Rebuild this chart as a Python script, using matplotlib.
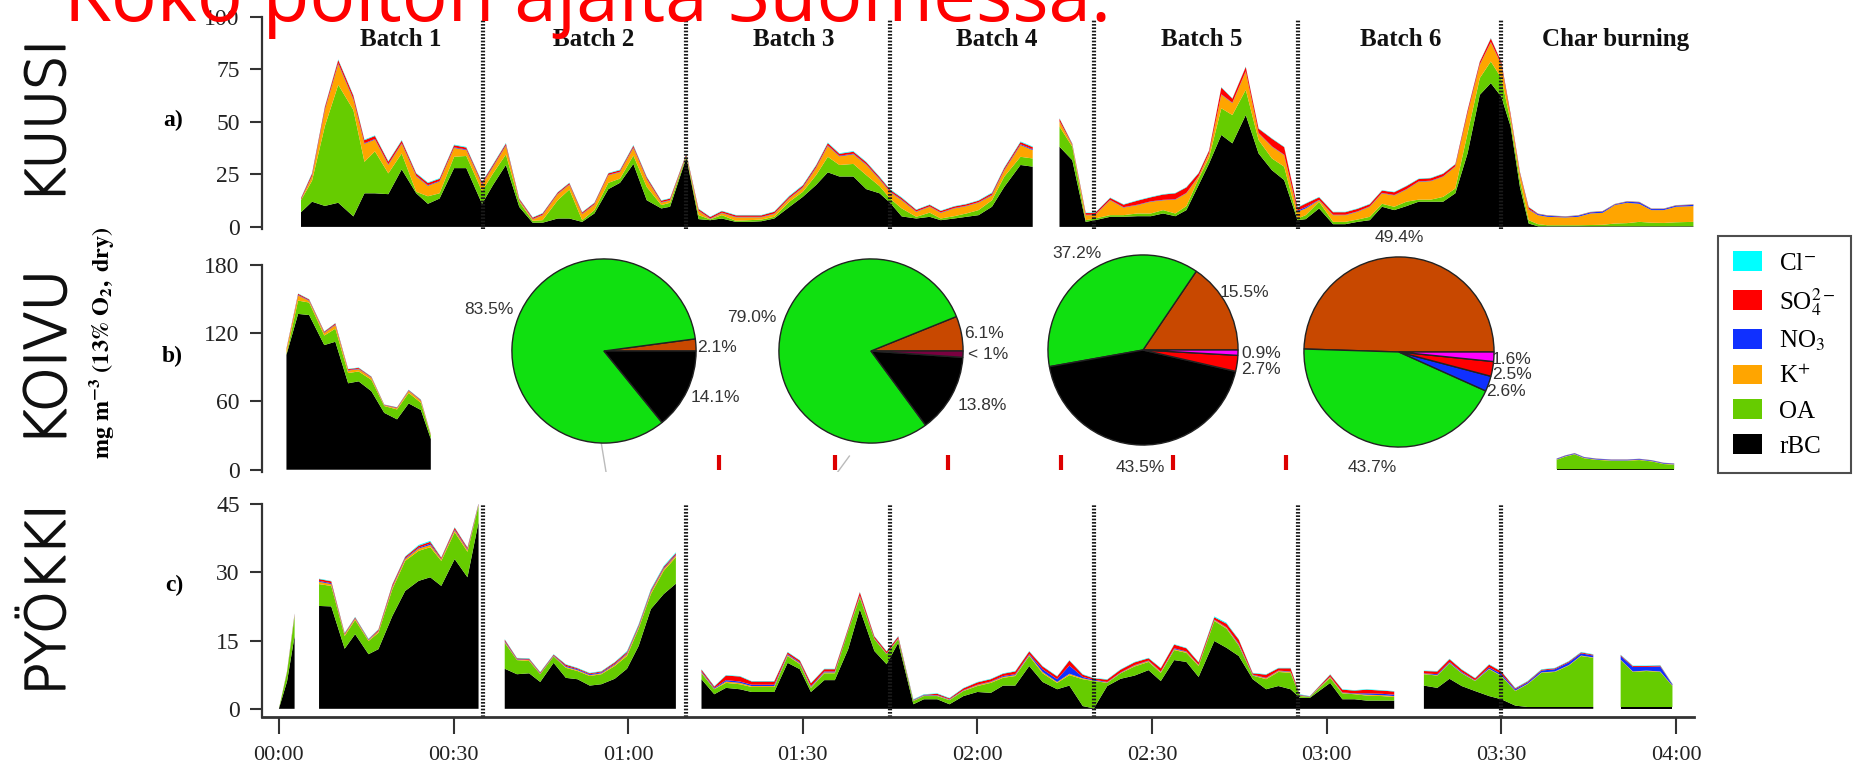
import matplotlib
matplotlib.use("Agg")
import matplotlib.pyplot as plt
import matplotlib.patheffects as pe
from matplotlib.patches import Patch

plt.rcParams['mathtext.fontset'] = 'stix'
SERIF = 'Liberation Serif'
SANS = 'Liberation Sans'
TITLEFONT = 'Open Sans'
BIG = 'DejaVu Sans'

# ---------------- data ----------------
species = ['rBC', 'OA', 'K+', 'NO3', 'SO4', 'Cl-']
stack_colors = ['#000000', '#66CC00', '#FFA500', '#1030FF', '#FF0000', '#00FFFF']
legend_labels = [r'Cl$^{-}$', r'SO$_4^{2-}$', r'NO$_3$', r'K$^{+}$', 'OA', 'rBC']
legend_colors = ['#00FFFF', '#FF0000', '#1030FF', '#FFA500', '#66CC00', '#000000']

batch_names = ['Batch 1', 'Batch 2', 'Batch 3', 'Batch 4', 'Batch 5', 'Batch 6', 'Char burning']
batch_label_x = [21, 54, 88.5, 123.4, 158.5, 192.7, 229.7]
batch_edges = [35, 70, 105, 140, 175, 210]
xtick_min = [0, 30, 60, 90, 120, 150, 180, 210, 240]
xtick_lab = ['00:00', '00:30', '01:00', '01:30', '02:00', '02:30', '03:00', '03:30', '04:00']

# Panel a (KUUSI), segment 1
a1_t = [3.8, 5.7, 7.9, 10.2, 12.8, 14.7, 16.5, 18.8, 21.1, 23.6, 25.6, 27.6, 30.1, 32.2, 34.9,
        36.8, 39.0, 41.3, 43.6, 45.3, 47.9, 49.9, 52.1, 54.2, 56.6, 58.6, 60.9, 63.2, 65.7, 67.2, 70.0,
        72.1, 74.1, 76.1, 78.5, 80.8, 82.9, 85.1, 87.7, 90.0, 92.3, 94.3, 96.3, 98.7, 100.9, 103.2, 105.0,
        107.0, 109.5, 111.8, 113.7, 116.0, 118.1, 120.2, 122.5, 124.6, 127.4, 129.5]
a1_rbc = [7, 12, 10, 11.5, 5, 16, 16, 15.6, 27.4, 16, 11, 13.5, 28, 28, 11,
          20, 29.5, 9.5, 2, 2, 4, 4, 2.4, 6.4, 18, 21, 30, 12.7, 8.8, 9.6, 33,
          3.7, 3.2, 4, 2.4, 2.4, 2.7, 4, 9.5, 14.3, 20, 26, 24, 24, 18, 16, 11.5,
          5, 4, 4.8, 3.2, 4, 4.8, 5.6, 9.6, 19, 29.5, 28.7]
a1_oa = [5.7, 10, 38, 56.2, 50.7, 15, 20, 9.9, 7.6, 0.7, 3.6, 2.5, 5.4, 5.8, 6,
         5.5, 5, 2.5, 0.9, 1.2, 8.7, 13.8, 0.8, 1.6, 3, 2, 4, 6.3, 1.6, 1.9, 0.8,
         1.9, 0.4, 1.6, 0.5, 0.8, 0.8, 0.8, 2.5, 2.4, 4.7, 7.4, 5.5, 6, 6.7, 3.4, 2,
         3.8, 0.8, 2, 0.8, 1.1, 1.6, 2.4, 3.1, 4.9, 3.9, 3.9]
a1_k = [0.2, 2.1, 7.6, 9.9, 4.9, 8.6, 5.6, 4.1, 4.6, 7.4, 5, 5.6, 4.2, 2.8, 3.1,
        3.1, 4.1, 0.6, 0.7, 2.4, 2.9, 2.3, 2.9, 2.6, 3.6, 3.1, 3.6, 3.6, 1.2, 1.1, 0.3,
        2, 0.2, 1, 1.7, 1.4, 1.1, 1.4, 1.6, 1.9, 3.4, 5.2, 4.1, 4.6, 4.9, 3.2, 3.1,
        3.9, 2.4, 2.8, 2.7, 3.7, 3.5, 3.6, 2.3, 2.9, 5.6, 4]
a1_no3 = [0.2, 0.3, 0.3, 0.4, 0.4, 0.3, 0.3, 0.3, 0.3, 0.3, 0.3, 0.3, 0.3, 0.3, 0.3,
          0.3, 0.3, 0.2, 0.2, 0.2, 0.2, 0.2, 0.2, 0.2, 0.2, 0.2, 0.3, 0.3, 0.2, 0.2, 0.2,
          0.2, 0.2, 0.2, 0.2, 0.2, 0.2, 0.2, 0.2, 0.3, 0.3, 0.3, 0.3, 0.3, 0.3, 0.3, 0.3,
          0.3, 0.2, 0.2, 0.2, 0.2, 0.2, 0.2, 0.3, 0.3, 0.4, 0.4]
a1_so4 = [0.6, 1.0, 1.2, 1.5, 1.5, 1.4, 1.4, 1.2, 1.2, 1.0, 1.0, 1.0, 1.0, 0.9, 0.8,
          0.8, 0.8, 0.6, 0.6, 0.6, 0.6, 0.6, 0.6, 0.6, 0.7, 0.7, 0.8, 0.8, 0.7, 0.7, 0.6,
          0.7, 0.7, 0.7, 0.7, 0.7, 0.7, 0.8, 0.8, 0.8, 0.9, 1.0, 0.9, 0.9, 0.9, 0.8, 0.8,
          0.8, 0.7, 0.7, 0.7, 0.7, 0.7, 0.7, 0.8, 0.9, 1.0, 1.0]
a1_cl = [0.2, 0.3, 0.3, 0.3, 0.3, 0.3, 0.3, 0.3, 0.3, 0.3, 0.3, 0.3, 0.3, 0.3, 0.3,
         0.3, 0.3, 0.2, 0.2, 0.2, 0.2, 0.2, 0.2, 0.2, 0.2, 0.3, 0.3, 0.3, 0.2, 0.2, 0.2,
         0.2, 0.2, 0.2, 0.2, 0.2, 0.2, 0.2, 0.3, 0.3, 0.3, 0.3, 0.3, 0.3, 0.3, 0.3, 0.3,
         0.3, 0.2, 0.2, 0.2, 0.2, 0.2, 0.2, 0.3, 0.3, 0.3, 0.3]

# Panel a, segment 2
a2_t = [134.1, 136.3, 138.6, 140.2, 142.8, 145.1, 147.5, 149.8, 151.9, 154.0, 155.9, 158.0, 159.8,
        161.9, 163.8, 166.1, 168.3, 170.6, 172.7, 175.0, 176.4, 178.7, 181.1, 183.2, 185.3, 187.4,
        189.5, 191.6, 193.7, 195.8, 197.9, 200.0, 202.1, 204.2, 206.3, 208.2, 210.0, 211.6, 213.2,
        214.7, 216.3, 217.9, 221.0, 223.2, 225.3, 227.4, 229.5, 231.6, 233.7, 235.8, 237.9, 240.0, 243.0]
a2_rbc = [38.2, 31.8, 2.4, 3.2, 4.8, 4.8, 5.1, 5.1, 6.4, 5.1, 8.0, 19.9, 30.2,
          43.8, 39.8, 53.3, 35.0, 27.0, 22.3, 3.2, 3.7, 8.8, 1.3, 1.3, 2.4, 3.2,
          9.6, 8.0, 9.9, 12.0, 12.0, 12.0, 16.0, 35.0, 62.9, 68.5, 62.0, 47.8, 19.0,
          1.6, 0.3, 0.3, 0.3, 0.3, 0.3, 0.3, 0.3, 0.3, 0.3, 0.3, 0.3, 0.3, 0.3]
a2_oa = [9.6, 6.4, 0.8, 0.8, 0.8, 0.8, 1.3, 1.3, 1.6, 1.3, 1.9, 3.1, 2.8,
         12.7, 13.5, 12.0, 6.4, 5.6, 6.4, 0.8, 1.9, 3.2, 1.1, 1.1, 1.1, 1.6,
         1.4, 1.6, 2.1, 1.0, 1.0, 2.3, 2.3, 9.6, 8.0, 10.3, 8.9, 2.4, 3.3,
         1.6, 1.0, 0.5, 0.5, 0.5, 0.6, 0.7, 1.3, 1.5, 2.1, 1.7, 1.6, 1.9, 2.1]
a2_k = [2.4, 0.8, 2.4, 1.6, 7.1, 3.6, 4.0, 5.6, 4.7, 6.6, 6.1, 1.0, 2.0,
        6.5, 5.7, 8.7, 3.2, 5.6, 5.5, 3.2, 3.2, 0.7, 3.2, 3.2, 3.7, 4.8,
        5.0, 5.4, 5.8, 8.5, 8.8, 9.6, 10.4, 9.4, 6.3, 9.1, 6.3, 2.3, 2.9,
        5.1, 4.3, 4.0, 3.7, 4.0, 5.5, 5.7, 8.8, 9.7, 8.6, 6.0, 6.1, 7.4, 7.5]
a2_no3 = [0.2, 0.2, 0.2, 0.2, 0.2, 0.2, 0.2, 0.2, 0.2, 0.2, 0.2, 0.2, 0.2,
          0.2, 0.2, 0.2, 0.2, 0.2, 0.2, 0.6, 0.6, 0.2, 0.2, 0.2, 0.2, 0.2,
          0.2, 0.2, 0.2, 0.2, 0.2, 0.2, 0.2, 0.2, 0.2, 0.2, 0.2, 0.2, 0.2,
          0.2, 0.5, 0.5, 0.3, 0.5, 0.5, 0.6, 0.3, 0.5, 0.7, 0.5, 0.5, 0.5, 0.6]
a2_so4 = [1.2, 0.4, 0.8, 0.8, 0.9, 1.2, 1.9, 1.9, 2.5, 2.8, 2.6, 1.4, 1.2,
          3.2, 1.9, 2.0, 2.0, 3.6, 3.6, 1.4, 1.7, 1.2, 1.2, 1.2, 1.2, 1.0,
          1.1, 1.3, 1.4, 1.1, 1.2, 1.2, 0.9, 1.3, 1.2, 1.7, 1.2, 1.1, 0.7,
          0.9, 0.2, 0.2, 0.2, 0.2, 0.2, 0.2, 0.2, 0.2, 0.2, 0.2, 0.2, 0.2, 0.2]
a2_cl = [0.2, 0.2, 0.2, 0.2, 0.2, 0.2, 0.2, 0.2, 0.2, 0.2, 0.2, 0.2, 0.2,
         0.2, 0.2, 0.2, 0.2, 0.2, 0.2, 0.2, 0.2, 0.2, 0.2, 0.2, 0.2, 0.2,
         0.2, 0.2, 0.2, 0.2, 0.2, 0.2, 0.2, 0.2, 0.2, 0.2, 0.2, 0.2, 0.2,
         0.2, 0.1, 0.1, 0.1, 0.1, 0.1, 0.1, 0.1, 0.1, 0.1, 0.1, 0.1, 0.1, 0.1]

# Panel b (KOIVU)
b1_t = [1.3, 3.3, 5.2, 7.8, 9.7, 11.9, 13.7, 15.9, 18.1, 20.3, 22.3, 24.4, 26.1]
b1_rbc = [101, 137, 136, 109.6, 112.5, 76, 77.7, 69, 50, 44.3, 58.3, 52.5, 27]
b1_oa = [1, 11.7, 11, 8.4, 11.5, 9, 8.7, 10, 6, 8.7, 9.2, 6.3, 3]
b1_k = [3.5, 4.5, 1.5, 2.2, 3.2, 2.2, 2.0, 1.8, 0.6, 1.0, 1.7, 1.7, 0.7]
b1_no3 = [0.3, 0.5, 0.4, 0.4, 0.5, 0.4, 0.4, 0.3, 0.2, 0.3, 0.3, 0.3, 0.2]
b1_so4 = [0.7, 1.0, 0.8, 0.8, 1.0, 0.8, 0.8, 0.6, 0.4, 0.5, 0.6, 0.6, 0.3]
b1_cl = [0.2, 0.3, 0.3, 0.3, 0.3, 0.3, 0.3, 0.3, 0.2, 0.2, 0.3, 0.3, 0.1]

b2_t = [219.5, 221.0, 222.6, 224.2, 226.3, 228.9, 231.6, 233.7, 235.8, 237.9, 239.7]
b2_rbc = [0.5, 0.5, 0.5, 0.5, 0.5, 0.5, 0.5, 0.5, 0.5, 0.5, 0.5]
b2_oa = [8.2, 11.0, 13.0, 9.6, 8.2, 7.4, 7.4, 8.0, 6.8, 4.5, 3.9]
b2_k = [0.3, 0.3, 0.3, 0.3, 0.3, 0.3, 0.3, 0.3, 0.3, 0.3, 0.3]
b2_no3 = [0.6, 0.6, 0.6, 0.6, 0.6, 0.6, 0.6, 0.6, 0.6, 0.6, 0.6]
b2_so4 = [0.2, 0.2, 0.2, 0.2, 0.2, 0.2, 0.2, 0.2, 0.2, 0.2, 0.2]
b2_cl = [0.1, 0.1, 0.1, 0.1, 0.1, 0.1, 0.1, 0.1, 0.1, 0.1, 0.1]

# Panel c (PYÖKKI)
c1_t = [0.0, 1.4, 2.7]
c1_rbc = [0.0, 6.0, 16.0]
c1_oa = [0.0, 2.0, 4.4]
c1_k = [0.0, 0.1, 0.2]
c1_no3 = [0.0, 0.05, 0.1]
c1_so4 = [0.0, 0.1, 0.2]
c1_cl = [0.0, 0.05, 0.1]

c2_t = [6.9, 9.0, 11.3, 13.1, 15.4, 17.1, 19.5, 21.7, 24.0, 26.0, 27.9, 30.2, 32.4, 34.3]
c2_rbc = [22.6, 22.5, 13.2, 16.4, 12.0, 13.1, 20.4, 25.9, 28.1, 28.9, 27.0, 32.9, 28.9, 41.0]
c2_oa = [4.8, 4.5, 2.8, 3.1, 2.9, 3.6, 5.9, 6.6, 6.6, 6.6, 5.5, 5.9, 5.6, 3.6]
c2_k = [0.5, 0.4, 0.3, 0.3, 0.2, 0.3, 0.4, 0.4, 0.5, 0.5, 0.3, 0.4, 0.4, 0.2]
c2_no3 = [0.2, 0.2, 0.1, 0.1, 0.1, 0.1, 0.2, 0.2, 0.2, 0.3, 0.1, 0.2, 0.2, 0.1]
c2_so4 = [0.4, 0.4, 0.2, 0.2, 0.1, 0.3, 0.4, 0.3, 0.4, 0.4, 0.3, 0.4, 0.3, 0.2]
c2_cl = [0.1, 0.1, 0.1, 0.1, 0.1, 0.1, 0.1, 0.1, 0.2, 0.2, 0.1, 0.1, 0.1, 0.1]

c3_t = [38.8, 40.9, 43.0, 44.9, 47.2, 49.3, 51.3, 53.4, 55.4, 57.7, 59.8, 61.8, 63.9, 66.1, 68.2]
c3_rbc = [8.8, 7.6, 7.8, 5.9, 10.1, 6.8, 6.5, 5.1, 5.4, 6.6, 8.8, 13.8, 21.9, 25.2, 27.5]
c3_oa = [5.7, 3.1, 2.7, 1.7, 1.4, 2.2, 1.8, 2.1, 2.2, 2.8, 2.8, 3.8, 3.3, 5.1, 5.8]
c3_k = [0.2, 0.1, 0.2, 0.1, 0.1, 0.2, 0.2, 0.2, 0.2, 0.3, 0.4, 0.3, 0.4, 0.4, 0.4]
c3_no3 = [0.2, 0.1, 0.1, 0.1, 0.1, 0.2, 0.2, 0.2, 0.2, 0.2, 0.2, 0.2, 0.2, 0.2, 0.2]
c3_so4 = [0.3, 0.2, 0.2, 0.2, 0.2, 0.3, 0.2, 0.2, 0.2, 0.3, 0.3, 0.3, 0.3, 0.3, 0.3]
c3_cl = [0.1, 0.1, 0.1, 0.1, 0.1, 0.1, 0.1, 0.1, 0.1, 0.1, 0.2, 0.2, 0.2, 0.2, 0.2]

c4_t = [72.6, 74.8, 76.8, 79.2, 81.2, 83.3, 85.1, 87.4, 89.5, 91.4,
        93.7, 95.5, 97.8, 99.8, 102.3, 104.4, 106.4, 109.0, 110.8, 113.1,
        115.2, 117.6, 120.0, 122.3, 124.4, 126.5, 128.9, 131.2, 133.7, 135.8,
        138.1, 140.0, 142.3, 144.6, 147.0, 149.4, 151.5, 153.8, 155.9, 158.0,
        160.7, 162.8, 164.9, 167.3, 169.6, 171.7, 173.8, 175.4, 177.1, 180.6,
        182.7, 184.8, 186.9, 189.5, 191.6]
c4_rbc = [6.5, 3.2, 4.6, 4.3, 3.7, 3.7, 3.7, 10.1, 8.7, 3.7,
          6.3, 6.3, 13.1, 21.9, 12.7, 9.8, 14.5, 1.0, 2.1, 2.1,
          1.0, 2.8, 3.7, 3.5, 5.1, 5.1, 9.4, 5.9, 4.3, 5.1,
          0.6, 0.1, 5.0, 6.6, 7.3, 8.5, 6.1, 10.7, 10.3, 7.0,
          14.9, 13.4, 11.6, 6.5, 4.3, 5.0, 4.3, 2.4, 2.4, 5.7,
          2.1, 2.1, 1.8, 1.8, 1.8]
c4_oa = [1.3, 1.1, 1.1, 1.1, 1.1, 1.1, 1.1, 1.5, 1.1, 0.9,
         1.5, 1.5, 4.0, 2.5, 2.6, 2.2, 0.8, 0.7, 0.7, 0.7,
         0.9, 1.1, 1.3, 2.2, 1.7, 2.1, 2.2, 1.9, 1.4, 2.3,
         5.9, 6.0, 0.7, 1.2, 2.0, 1.8, 1.8, 2.2, 2.0, 2.4,
         4.4, 4.2, 2.3, 0.8, 2.2, 3.1, 3.6, 0.4, 0.2, 1.1,
         1.3, 1.1, 1.1, 1.0, 0.8]
c4_k = [0.2, 0.1, 0.3, 0.3, 0.2, 0.2, 0.2, 0.2, 0.2, 0.2,
        0.2, 0.2, 0.1, 0.3, 0.1, 0.1, 0.1, 0.1, 0.1, 0.1,
        0.1, 0.1, 0.2, 0.2, 0.2, 0.2, 0.2, 0.3, 0.2, 0.3,
        0.2, 0.1, 0.1, 0.1, 0.2, 0.2, 0.2, 0.2, 0.2, 0.2,
        0.2, 0.2, 0.2, 0.1, 0.2, 0.2, 0.2, 0.1, 0.05, 0.2,
        0.1, 0.1, 0.2, 0.2, 0.2]
c4_no3 = [0.2, 0.2, 0.3, 0.3, 0.3, 0.3, 0.3, 0.2, 0.2, 0.2,
          0.2, 0.2, 0.1, 0.2, 0.1, 0.1, 0.1, 0.1, 0.1, 0.1,
          0.1, 0.1, 0.1, 0.1, 0.2, 0.2, 0.2, 0.6, 0.6, 1.8,
          0.3, 0.2, 0.1, 0.1, 0.1, 0.1, 0.1, 0.2, 0.1, 0.1,
          0.1, 0.1, 0.2, 0.1, 0.1, 0.1, 0.1, 0.1, 0.05, 0.1,
          0.1, 0.1, 0.3, 0.3, 0.3]
c4_so4 = [0.4, 0.3, 1.0, 1.1, 0.7, 0.7, 0.7, 0.4, 0.4, 0.6,
          0.5, 0.5, 0.4, 0.7, 0.4, 0.4, 0.4, 0.1, 0.1, 0.3,
          0.2, 0.4, 0.5, 0.5, 0.5, 0.6, 0.6, 0.6, 0.6, 1.1,
          0.5, 0.3, 0.5, 0.6, 0.6, 0.5, 0.7, 0.8, 0.7, 0.5,
          0.5, 0.8, 0.9, 0.3, 0.7, 0.5, 0.7, 0.1, 0.05, 0.4,
          0.6, 0.6, 0.8, 0.7, 0.7]
c4_cl = [0.1, 0.1, 0.1, 0.1, 0.1, 0.1, 0.1, 0.1, 0.1, 0.1,
         0.1, 0.1, 0.1, 0.1, 0.1, 0.1, 0.1, 0.1, 0.1, 0.1,
         0.1, 0.1, 0.1, 0.1, 0.1, 0.1, 0.1, 0.1, 0.1, 0.1,
         0.1, 0.1, 0.1, 0.1, 0.1, 0.1, 0.1, 0.1, 0.1, 0.1,
         0.2, 0.2, 0.1, 0.1, 0.1, 0.1, 0.1, 0.1, 0.05, 0.1,
         0.1, 0.1, 0.1, 0.1, 0.1]

c5_t = [196.7, 199.0, 201.1, 203.2, 205.5, 207.9, 210.0, 212.4, 214.5, 216.9, 219.2, 221.6, 223.7, 225.8]
c5_rbc = [5.1, 4.6, 6.6, 5.0, 3.9, 2.8, 2.1, 0.7, 0.4, 0.4, 0.4, 0.4, 0.4, 0.4]
c5_oa = [2.5, 2.7, 3.4, 2.8, 2.2, 5.9, 5.1, 3.2, 5.0, 7.5, 7.7, 9.1, 11.2, 10.8]
c5_k = [0.1, 0.1, 0.1, 0.1, 0.1, 0.1, 0.1, 0.1, 0.1, 0.1, 0.1, 0.1, 0.1, 0.1]
c5_no3 = [0.1, 0.2, 0.2, 0.2, 0.1, 0.3, 0.4, 0.3, 0.3, 0.4, 0.5, 0.6, 0.5, 0.4]
c5_so4 = [0.5, 0.6, 0.6, 0.5, 0.4, 0.6, 0.5, 0.2, 0.2, 0.2, 0.2, 0.2, 0.2, 0.2]
c5_cl = [0.1, 0.1, 0.1, 0.1, 0.1, 0.1, 0.1, 0.1, 0.1, 0.1, 0.1, 0.1, 0.1, 0.1]

c6_t = [230.5, 232.6, 234.9, 237.3, 239.4]
c6_rbc = [0.4, 0.4, 0.4, 0.4, 0.4]
c6_oa = [10.3, 7.7, 7.9, 7.7, 4.6]
c6_k = [0.1, 0.1, 0.1, 0.1, 0.1]
c6_no3 = [0.8, 1.0, 0.8, 1.1, 0.2]
c6_so4 = [0.2, 0.2, 0.2, 0.2, 0.1]
c6_cl = [0.1, 0.1, 0.1, 0.1, 0.1]

# Pie charts (percent)
pie1_vals = [2.1, 83.5, 14.1]
pie2_vals = [6.1, 79.0, 13.8, 1.1]
pie3_vals = [15.5, 37.2, 43.5, 2.7, 0.9]
pie4_vals = [49.4, 43.7, 2.6, 2.5, 1.6]
PBROWN, PGREEN, PBLACK = '#C84800', '#10E010', '#000000'
pie1_cols = [PBROWN, PGREEN, PBLACK]
pie2_cols = [PBROWN, PGREEN, PBLACK, '#7A0040']
pie3_cols = [PBROWN, PGREEN, PBLACK, '#FF0000', '#FF00FF']
pie4_cols = [PBROWN, PGREEN, '#1030FF', '#FF0000', '#FF00FF']

red_mark_min = [75.6, 95.5, 115.0, 134.4, 153.6, 173.0]

# ---------------- figure ----------------
W, H = 1858, 770
fig = plt.figure(figsize=(W / 100, H / 100), dpi=100)


def fx(px):
    return px / W


def fy(py):
    return 1 - py / H


XL, XR = 262, 1694
XLIM = (-2.9, 243.1)

axa = fig.add_axes([fx(XL), fy(229), (XR - XL) / W, (229 - 17) / H])
axb = fig.add_axes([fx(XL), fy(472), (XR - XL) / W, (472 - 265) / H])
axc = fig.add_axes([fx(XL), fy(717), (XR - XL) / W, (717 - 504) / H])


def stack(ax, t, rbc, oa, k, no3, so4, cl):
    ax.stackplot(t, rbc, oa, k, no3, so4, cl, colors=stack_colors, linewidth=0)


stack(axa, a1_t, a1_rbc, a1_oa, a1_k, a1_no3, a1_so4, a1_cl)
stack(axa, a2_t, a2_rbc, a2_oa, a2_k, a2_no3, a2_so4, a2_cl)
stack(axb, b1_t, b1_rbc, b1_oa, b1_k, b1_no3, b1_so4, b1_cl)
stack(axb, b2_t, b2_rbc, b2_oa, b2_k, b2_no3, b2_so4, b2_cl)
stack(axc, c1_t, c1_rbc, c1_oa, c1_k, c1_no3, c1_so4, c1_cl)
stack(axc, c2_t, c2_rbc, c2_oa, c2_k, c2_no3, c2_so4, c2_cl)
stack(axc, c3_t, c3_rbc, c3_oa, c3_k, c3_no3, c3_so4, c3_cl)
stack(axc, c4_t, c4_rbc, c4_oa, c4_k, c4_no3, c4_so4, c4_cl)
stack(axc, c5_t, c5_rbc, c5_oa, c5_k, c5_no3, c5_so4, c5_cl)
stack(axc, c6_t, c6_rbc, c6_oa, c6_k, c6_no3, c6_so4, c6_cl)

axa.set_ylim(-1, 100)
axb.set_ylim(-2, 180)
axc.set_ylim(-1.8, 45)
axa.set_yticks([0, 25, 50, 75, 100])
axb.set_yticks([0, 60, 120, 180])
axc.set_yticks([0, 15, 30, 45])

for ax in (axa, axb, axc):
    ax.set_xlim(XLIM)
    ax.set_facecolor('none')
    for s in ('top', 'right'):
        ax.spines[s].set_visible(False)
    ax.spines['left'].set_color('#333333')
    ax.spines['left'].set_linewidth(1.6)
    ax.tick_params(axis='y', direction='out', length=9, width=1.5, color='#333333',
                   labelsize=17, pad=7, labelcolor='#222222')
    for lab in ax.get_yticklabels():
        lab.set_fontfamily(SERIF)

for ax in (axa, axb):
    ax.spines['bottom'].set_visible(False)
    ax.set_xticks([])

axc.spines['bottom'].set_color('#333333')
axc.spines['bottom'].set_linewidth(2)
axc.set_xticks(xtick_min)
axc.set_xticklabels(xtick_lab, fontfamily=SERIF)
axc.tick_params(axis='x', direction='out', length=12, width=1.5, color='#333333',
                labelsize=16, pad=9, labelcolor='#222222')

# batch separators
for e in batch_edges:
    axa.axvline(e, ymin=0, ymax=0.99, color='#1a1a1a', lw=3.0, ls=(0, (0.4, 0.4)))
    axc.axvline(e, ymin=0, ymax=1.0, color='#1a1a1a', lw=3.0, ls=(0, (0.4, 0.4)))

for name, xm in zip(batch_names, batch_label_x):
    axa.text(xm, 89.5, name, ha='center', va='center', fontfamily=SERIF,
             fontweight='bold', fontsize=18, color='#111111')

# red marks and grey leftover lines in panel b
axb.vlines(red_mark_min, 0, 13, colors='#DD0000', lw=3)
axb.plot([55.3, 56.2], [26, -2], color='#BBBBBB', lw=1.0)
axb.plot([96.0, 98.0], [-2, 12], color='#BBBBBB', lw=1.0)

# panel letters
for lab, py in (('a)', 120), ('b)', 356), ('c)', 585)):
    fig.text(fx(183), fy(py), lab, ha='right', va='center', fontfamily=SERIF,
             fontweight='bold', fontsize=17)

# y axis label
fig.text(fx(102), fy(343), r'$\mathbf{mg\ m^{-3}\ (13\%\ O_2,\ dry)}$', rotation=90,
         ha='center', va='center', fontsize=17.5)

# big wood labels
for lab, py, fs in (('KUUSI', 122, 39), ('KOIVU', 358, 41), ('PYÖKKI', 600, 39)):
    fig.text(fx(50), fy(py), lab, rotation=90, ha='center', va='center',
             fontfamily=BIG, fontweight='light', fontsize=fs, color='#111111',
             path_effects=[pe.withStroke(linewidth=1.3, foreground='#111111')])

# title (partly above the figure)
fig.text(fx(588), fy(21), 'Koko polton ajalta Suomessa.', color='#FF0000',
         fontfamily=TITLEFONT, fontsize=55, ha='center', va='baseline')

# pies
pies = [((604, 351), 93, pie1_vals, pie1_cols),
        ((871, 351), 93, pie2_vals, pie2_cols),
        ((1143, 350), 96, pie3_vals, pie3_cols),
        ((1399, 352), 96, pie4_vals, pie4_cols)]
for (cx, cy), R, vals, cols in pies:
    pax = fig.add_axes([fx(cx - R), fy(cy + R), 2 * R / W, 2 * R / H])
    pax.pie(vals, colors=cols, startangle=0, counterclock=True,
            wedgeprops=dict(edgecolor='#222222', linewidth=1.0))
    pax.set_xlim(-1.01, 1.01)
    pax.set_ylim(-1.01, 1.01)
    pax.set_aspect('equal')
    pax.axis('off')

pie_labels = [('83.5%', 489, 310, 'center'), ('2.1%', 697, 348, 'left'), ('14.1%', 691, 398, 'left'),
              ('79.0%', 752, 317, 'center'), ('6.1%', 964, 334, 'left'), ('< 1%', 968, 354, 'left'),
              ('13.8%', 958, 406, 'left'),
              ('37.2%', 1077, 253, 'center'), ('15.5%', 1220, 293, 'left'), ('0.9%', 1241, 353, 'left'),
              ('2.7%', 1241, 369, 'left'), ('43.5%', 1140, 468, 'center'),
              ('49.4%', 1399, 238, 'center'), ('1.6%', 1492, 359, 'left'), ('2.5%', 1492, 374, 'left'),
              ('2.6%', 1486, 392, 'left'), ('43.7%', 1372, 468, 'center')]
for txt, px, py, ha in pie_labels:
    fig.text(fx(px), fy(py), txt, ha=ha, va='center', fontfamily=SANS, fontsize=12.5,
             color='#333333')

# legend
handles = [Patch(facecolor=c, edgecolor='none') for c in legend_colors]
leg = fig.legend(handles, legend_labels, loc='upper left',
                 bbox_to_anchor=(fx(1718), fy(236)), frameon=True, fancybox=False,
                 prop={'family': SERIF, 'size': 18}, handlelength=1.15, handleheight=0.85,
                 labelspacing=0.45, borderpad=0.6, handletextpad=0.7, borderaxespad=0)
leg.get_frame().set_edgecolor('#222222')
leg.get_frame().set_linewidth(1.5)

fig.savefig('out.png', dpi=100)
